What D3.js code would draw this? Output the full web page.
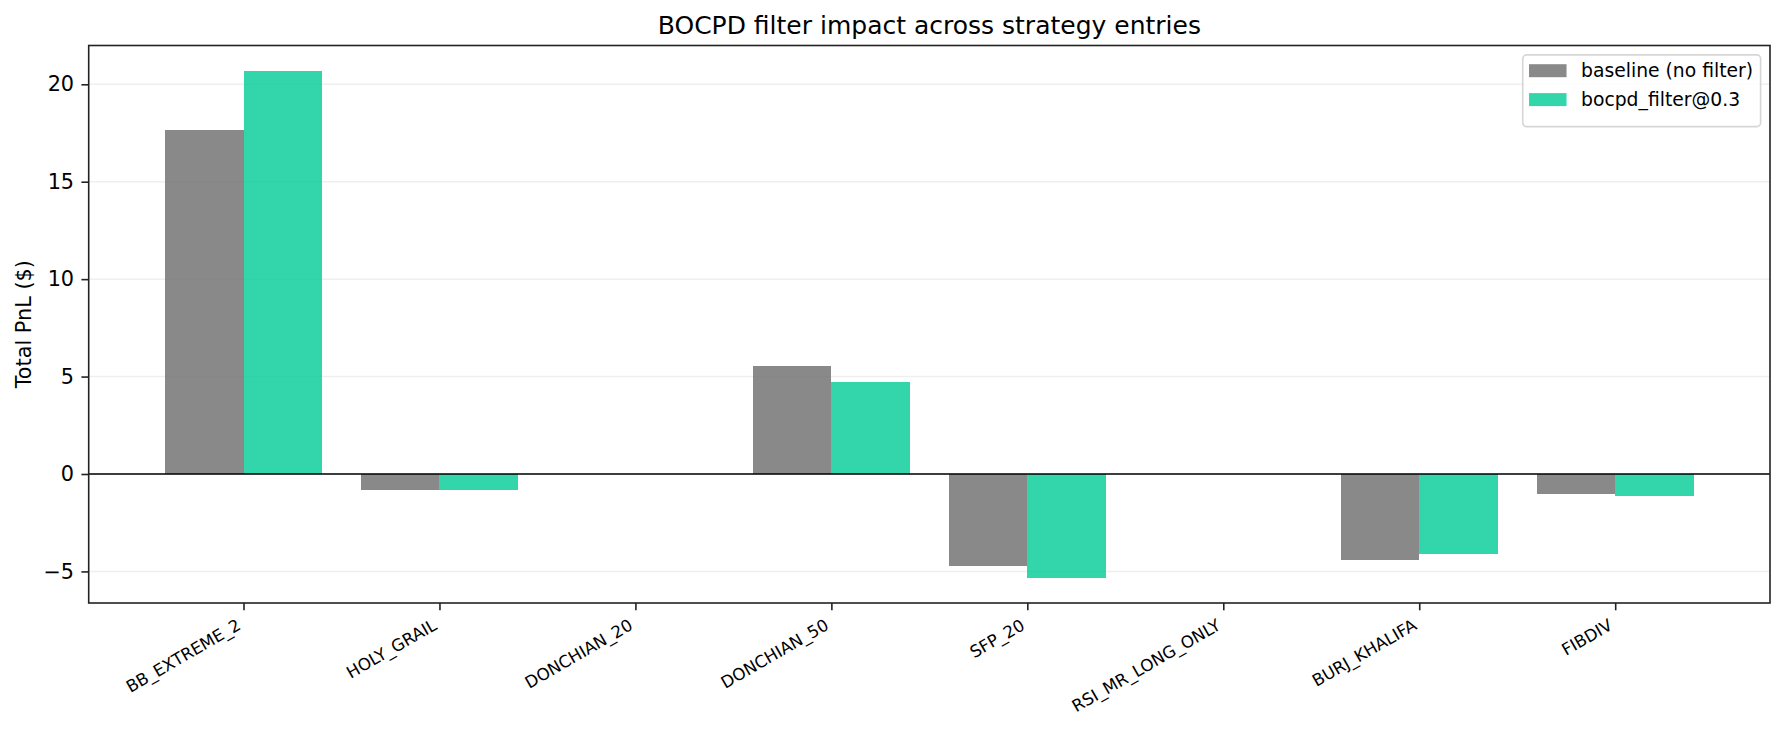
<!DOCTYPE html>
<html>
<head>
<meta charset="utf-8">
<script src="https://cdn.jsdelivr.net/npm/d3@7"></script>
<style>
  body { margin: 0; background: #fff; }
  svg { display: block; font-family: "DejaVu Sans", sans-serif; }
</style>
</head>
<body>
<div id="chart"></div>
<script>
const categories = ["BB_EXTREME_2", "HOLY_GRAIL", "DONCHIAN_20", "DONCHIAN_50",
  "SFP_20", "RSI_MR_LONG_ONLY", "BURJ_KHALIFA", "FIBDIV"];
const baseline = [17.66, -0.80, 0, 5.53, -4.71, 0, -4.40, -1.02];
const bocpd = [20.69, -0.80, 0, 4.71, -5.32, 0, -4.10, -1.13];
const yTicks = [-5, 0, 5, 10, 15, 20];

const series = [
  { label: "baseline (no filter)", values: baseline, color: "#6b6b6b" },
  { label: "bocpd_filter@0.3", values: bocpd, color: "#00cc96" },
];

const width = 1784, height = 733;
const margin = { top: 45.5, right: 14, bottom: 130, left: 88.7 };
const barW = 0.4;

const svg = d3.select("#chart").append("svg")
  .attr("width", width).attr("height", height);

// x: category index, matplotlib-style 5% margins
const xLo = -barW, xHi = categories.length - 1 + barW;
const xPad = (xHi - xLo) * 0.05;
const x = d3.scaleLinear()
  .domain([xLo - xPad, xHi + xPad])
  .range([margin.left, width - margin.right]);

const allVals = baseline.concat(bocpd);
const yMin = d3.min(allVals), yMax = d3.max(allVals);
const yPad = (yMax - yMin) * 0.05;
const y = d3.scaleLinear()
  .domain([yMin - yPad, yMax + yPad])
  .range([height - margin.bottom, margin.top]);

const plotTop = margin.top, plotBottom = height - margin.bottom;

// grid
svg.append("g").selectAll("line").data(yTicks).join("line")
  .attr("x1", margin.left).attr("x2", width - margin.right)
  .attr("y1", d => y(d)).attr("y2", d => y(d))
  .attr("stroke", "#b0b0b0").attr("stroke-opacity", 0.2).attr("stroke-width", 1.5);

// bars
series.forEach((s, si) => {
  svg.append("g").selectAll("rect").data(s.values).join("rect")
    .attr("x", (d, i) => x(i + (si - 1) * barW))
    .attr("width", (d, i) => x(i + si * barW) - x(i + (si - 1) * barW))
    .attr("y", d => y(Math.max(0, d)))
    .attr("height", d => Math.abs(y(d) - y(0)))
    .attr("fill", s.color)
    .attr("fill-opacity", 0.8)
    .attr("shape-rendering", "crispEdges");
});

// zero line
svg.append("line")
  .attr("x1", margin.left).attr("x2", width - margin.right)
  .attr("y1", y(0)).attr("y2", y(0))
  .attr("stroke", "#000").attr("stroke-width", 1.3);

// y axis
const yAxis = svg.append("g")
  .attr("transform", `translate(${margin.left},0)`)
  .call(d3.axisLeft(y).tickValues(yTicks).tickSize(7.3).tickPadding(7.3)
    .tickFormat(d3.format("d")));
yAxis.select(".domain").remove();
yAxis.selectAll(".tick line").attr("stroke", "#222").attr("stroke-width", 1.6);
yAxis.selectAll(".tick text").attr("font-size", "20.8px").attr("fill", "#000")
  .attr("font-family", "DejaVu Sans");

// x axis
const xAxis = svg.append("g")
  .attr("transform", `translate(0,${plotBottom})`)
  .call(d3.axisBottom(x).tickValues(d3.range(categories.length)).tickSize(7.3)
    .tickFormat(i => categories[i]));
xAxis.select(".domain").remove();
xAxis.selectAll(".tick line").attr("stroke", "#222").attr("stroke-width", 1.6);
const xfs = 16.67;
xAxis.selectAll(".tick text")
  .attr("font-size", xfs + "px").attr("font-family", "DejaVu Sans").attr("fill", "#000")
  .attr("text-anchor", "end").attr("dy", null).attr("y", null)
  .attr("transform", `translate(${-0.5 * 0.236 * xfs},${14.6 + 0.866 * 0.76 * xfs}) rotate(-30)`);

// frame
svg.append("rect")
  .attr("x", margin.left).attr("y", plotTop)
  .attr("width", width - margin.right - margin.left)
  .attr("height", plotBottom - plotTop)
  .attr("fill", "none").attr("stroke", "#222").attr("stroke-width", 1.6);

// title
svg.append("text")
  .attr("x", (margin.left + width - margin.right) / 2).attr("y", 33.5)
  .attr("text-anchor", "middle").attr("font-size", "25px").attr("fill", "#000")
  .text("BOCPD filter impact across strategy entries");

// y label
svg.append("text")
  .attr("transform", `translate(30.5,${(plotTop + plotBottom) / 2}) rotate(-90)`)
  .attr("text-anchor", "middle").attr("font-size", "20.8px").attr("fill", "#000")
  .text("Total PnL ($)");

// legend
const lfs = 18.75;
const legend = svg.append("g");
const legendFrame = legend.append("rect");
const items = legend.selectAll("g").data(series).join("g");
items.append("rect")
  .attr("width", 37.5).attr("height", 13)
  .attr("fill", d => d.color).attr("fill-opacity", 0.8);
const labels = items.append("text")
  .attr("x", 52).attr("y", 6.5).attr("dy", "0.35em")
  .attr("font-size", lfs + "px").attr("fill", "#000")
  .text(d => d.label);
let textW = 0;
labels.each(function () { textW = Math.max(textW, this.getComputedTextLength()); });
const boxW = 6.3 + 52 + textW + 7.5, boxH = 71.7;
const boxX = width - margin.right - 9.4 - boxW, boxY = plotTop + 9.4;
legendFrame
  .attr("x", boxX).attr("y", boxY).attr("width", boxW).attr("height", boxH)
  .attr("rx", 3.75).attr("fill", "#fff").attr("fill-opacity", 0.8)
  .attr("stroke", "#cccccc").attr("stroke-opacity", 0.8).attr("stroke-width", 1.6);
items.attr("transform", (d, i) => `translate(${boxX + 6.3},${boxY + 9.3 + i * 28.9})`);
</script>
</body>
</html>
